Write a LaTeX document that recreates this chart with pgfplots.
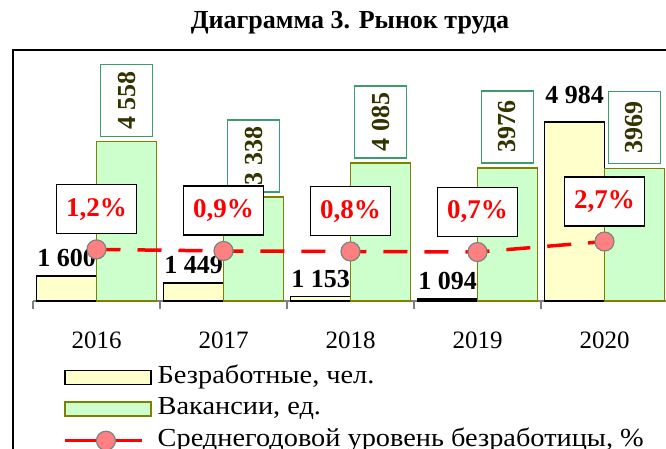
\documentclass[border=0pt]{standalone}
\usepackage{pgfplots}
\pgfplotsset{compat=1.18}
\usepackage{pgfplotstable}
\usepackage{fontspec}
\setmainfont{Liberation Serif}
\newfontfamily\legfont{Liberation Serif}[FakeStretch=1.09]
\definecolor{yfill}{HTML}{FFFFCC}
\definecolor{gfill}{HTML}{CCFFCC}
\definecolor{gedge}{HTML}{808000}
\definecolor{boxg}{HTML}{3C9C6E}
\definecolor{gtext}{HTML}{333300}
\definecolor{mfill}{HTML}{FF8080}
\pgfplotsset{lineleg/.style={legend image code/.code={\draw[mark repeat=2, mark phase=2, ##1, solid] plot coordinates {(0pt,0pt) (41pt,0pt) (77pt,0pt)}; \path (91pt,0pt);}}}

\pgfplotstableread{
x y label dy
0 1600 1~600 8
1 1449 1~449 8
2 1153 1~153 8
3 1094 1~094 8
4 4984 4~984 18
}\unemp
\pgfplotstableread{
x y label
0 4558 4~558
1 3338 3~338
2 4085 4~085
3 3976 3976
4 3969 3969
}\vac
\pgfplotstableread{
x y
0 1.2
1 0.9
2 0.8
3 0.7
4 2.7
}\rate

\begin{document}
\begin{tikzpicture}[x=1pt,y=1pt]
\path[use as bounding box] (0,0) rectangle (666,448);
\clip (0,0) rectangle (666,448);
\draw[line width=2pt] (13,398) rectangle (700,-20);
\node[font=\bfseries\fontsize{26}{30}\selectfont] at (350,425) {Диаграмма 3. Рынок труда};
\begin{axis}[
  at={(33pt,147pt)}, anchor=south west,
  scale only axis, width=635pt, height=246pt,
  xmin=-0.5, xmax=4.5, ymin=1050, ymax=6460,
  axis y line=none, axis x line*=bottom,
  x axis line style={draw=gray, line width=1.5pt},
  xtick={0,...,4}, xticklabels={2016,2017,2018,2019,2020},
  major tick length=0pt,
  minor xtick={-0.5,0.5,...,4.5},
  minor tick length=8pt, tick align=outside,
  minor tick style={draw=gray, line width=1.5pt},
  xticklabel style={font=\fontsize{25}{25}\selectfont, anchor=north, inner sep=0pt, yshift=-30.7pt},
  ybar, bar width=60pt,
  point meta=explicit symbolic,
  nodes near coords,
]
\addplot[bar shift=-30pt, fill=yfill, draw=black, line width=1.5pt,
  visualization depends on={\thisrow{dy}\as\dy},
  every node near coord/.append style={font=\bfseries\fontsize{26}{26}\selectfont, text=black, anchor=south, inner sep=0pt, yshift=\dy pt}]
  table[x=x,y=y,meta=label]{\unemp};
\addplot[bar shift=30pt, fill=gfill, draw=gedge, line width=1.5pt,
  every node near coord/.append style={font=\bfseries\fontsize{26}{26}\selectfont, text=gtext, rotate=90, anchor=west, draw=boxg, fill=white, line width=1.2pt, minimum width=72pt, minimum height=52pt, inner sep=0pt, outer sep=5pt}]
  table[x=x,y=y,meta=label]{\vac};
\end{axis}
\begin{axis}[
  at={(33pt,147pt)}, anchor=south west,
  scale only axis, width=635pt, height=246pt,
  xmin=-0.5, xmax=4.5, ymin=-8.63, ymax=38.23,
  hide axis,
  legend cell align=left,
  legend style={at={(0,0)}, anchor=north west, xshift=30pt, yshift=-65pt,
    draw=none, fill=none, inner sep=0pt, font=\legfont\fontsize{26}{26}\selectfont,
    row sep=8.5pt, nodes={inner sep=0pt, text height=17pt, text depth=6pt}},
]
\addlegendimage{legend image code/.code={\draw[fill=yfill, draw=black, line width=1.5pt] (0pt,-7pt) rectangle (86pt,7pt); \path (91pt,0pt);}}
\addlegendentry{Безработные, чел.}
\addlegendimage{legend image code/.code={\draw[fill=gfill, draw=gedge, line width=1.5pt] (0pt,-7pt) rectangle (86pt,7pt); \path (91pt,0pt);}}
\addlegendentry{Вакансии, ед.}
\addplot[red, line width=3.5pt, dash pattern=on 24pt off 17pt, mark=*, mark size=9.5pt,
  mark options={solid, fill=mfill, draw=gray, line width=1.2pt},
  nodes near coords={\pgfmathprintnumber[fixed,fixed zerofill,precision=1,use comma,assume math mode=true]{\pgfplotspointmeta}\%},
  every node near coord/.append style={font=\bfseries\fontsize{27}{27}\selectfont, text=red, draw=black, solid, line width=1.5pt, fill=white, minimum width=80pt, minimum height=49pt, anchor=south, inner sep=0pt, yshift=15pt},
  lineleg]
  table[x=x,y=y]{\rate};
\addlegendentry{Среднегодовой уровень безработицы, \%}
\end{axis}
\end{tikzpicture}
\end{document}
